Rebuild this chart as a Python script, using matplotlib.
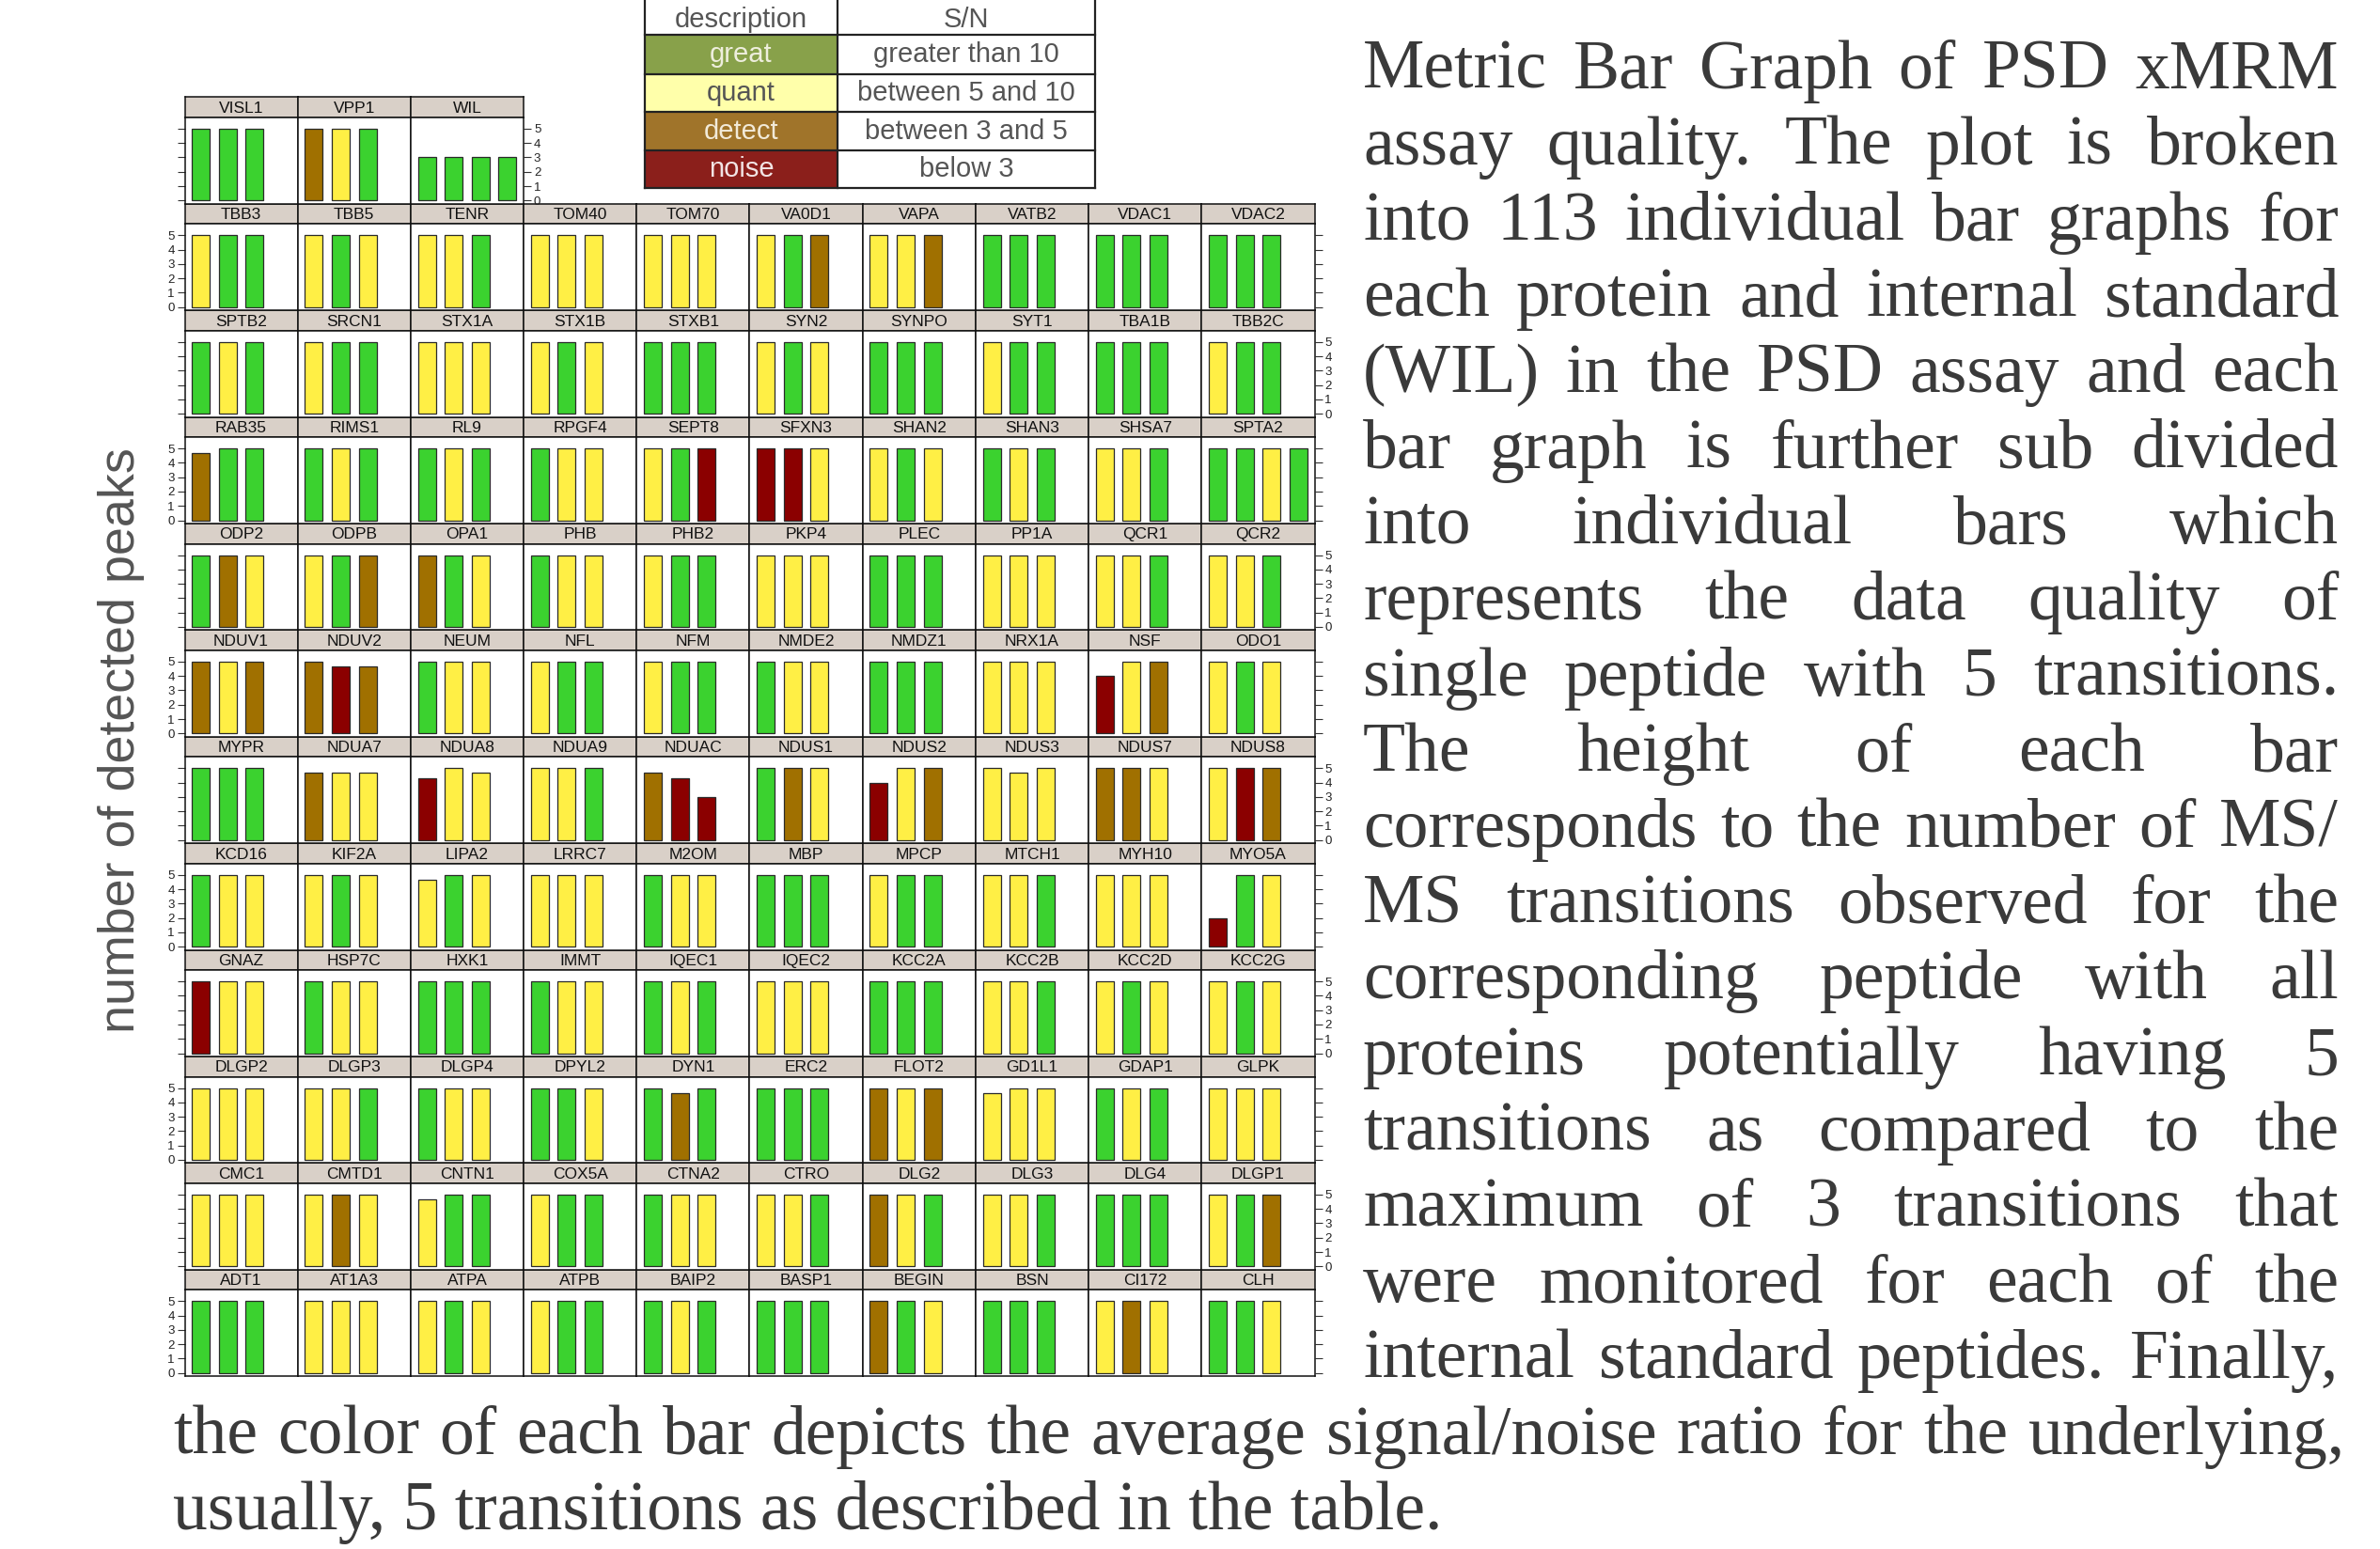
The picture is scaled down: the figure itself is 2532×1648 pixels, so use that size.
import matplotlib
matplotlib.use('Agg')
import matplotlib.pyplot as plt
from matplotlib.patches import Rectangle

W, H = 2532, 1648
DPI = 100

# panels in lattice order (bottom-left first, alphabetical)
proteins = [
    'ADT1', 'AT1A3', 'ATPA', 'ATPB', 'BAIP2', 'BASP1', 'BEGIN', 'BSN', 'CI172', 'CLH',
    'CMC1', 'CMTD1', 'CNTN1', 'COX5A', 'CTNA2', 'CTRO', 'DLG2', 'DLG3', 'DLG4', 'DLGP1',
    'DLGP2', 'DLGP3', 'DLGP4', 'DPYL2', 'DYN1', 'ERC2', 'FLOT2', 'GD1L1', 'GDAP1', 'GLPK',
    'GNAZ', 'HSP7C', 'HXK1', 'IMMT', 'IQEC1', 'IQEC2', 'KCC2A', 'KCC2B', 'KCC2D', 'KCC2G',
    'KCD16', 'KIF2A', 'LIPA2', 'LRRC7', 'M2OM', 'MBP', 'MPCP', 'MTCH1', 'MYH10', 'MYO5A',
    'MYPR', 'NDUA7', 'NDUA8', 'NDUA9', 'NDUAC', 'NDUS1', 'NDUS2', 'NDUS3', 'NDUS7', 'NDUS8',
    'NDUV1', 'NDUV2', 'NEUM', 'NFL', 'NFM', 'NMDE2', 'NMDZ1', 'NRX1A', 'NSF', 'ODO1',
    'ODP2', 'ODPB', 'OPA1', 'PHB', 'PHB2', 'PKP4', 'PLEC', 'PP1A', 'QCR1', 'QCR2',
    'RAB35', 'RIMS1', 'RL9', 'RPGF4', 'SEPT8', 'SFXN3', 'SHAN2', 'SHAN3', 'SHSA7', 'SPTA2',
    'SPTB2', 'SRCN1', 'STX1A', 'STX1B', 'STXB1', 'SYN2', 'SYNPO', 'SYT1', 'TBA1B', 'TBB2C',
    'TBB3', 'TBB5', 'TENR', 'TOM40', 'TOM70', 'VA0D1', 'VAPA', 'VATB2', 'VDAC1', 'VDAC2',
    'VISL1', 'VPP1', 'WIL',
]

# S/N class of each peptide: G great, Y quant, D detect, N noise
sn_class = [
    'GGG', 'YYY', 'YGY', 'YGG', 'GYG', 'GGG', 'DGY', 'GGG', 'YDY', 'GGY',
    'YYY', 'YDY', 'YGG', 'YGG', 'GYY', 'YYG', 'DYG', 'YYG', 'GGG', 'YGD',
    'YYY', 'YYG', 'GYY', 'GGY', 'GDG', 'GGG', 'DYD', 'YYY', 'GYG', 'YYY',
    'NYY', 'GYY', 'GGG', 'GYY', 'GYG', 'YYY', 'GGG', 'YYG', 'YGY', 'YGY',
    'GYY', 'YGY', 'YGY', 'YYY', 'GYY', 'GGG', 'YGG', 'YYG', 'YYY', 'NGY',
    'GGG', 'DYY', 'NYY', 'YYG', 'DNN', 'GDY', 'NYD', 'YYY', 'DDY', 'YND',
    'DYD', 'DND', 'GYY', 'YGG', 'YGG', 'GYY', 'GGG', 'YYY', 'NYD', 'YGY',
    'GDY', 'YGD', 'DGY', 'GYY', 'YGG', 'YYY', 'GGG', 'YYY', 'YYG', 'YYG',
    'DGG', 'GYG', 'GYG', 'GYY', 'YGN', 'NNY', 'YGY', 'GYG', 'YYG', 'GGYG',
    'GYG', 'YGG', 'YYY', 'YGY', 'GGG', 'YGY', 'GGG', 'YGG', 'GGG', 'YGG',
    'YGG', 'YGY', 'YYG', 'YYY', 'YYY', 'YGD', 'YYD', 'GGG', 'GGG', 'GGG',
    'GGG', 'DYG', 'GGGG',
]

# number of detected peaks per peptide (all 5 unless listed)
special_peaks = {
    'CNTN1': [4.67, 5, 5], 'DYN1': [5, 4.67, 5], 'GD1L1': [4.67, 5, 5],
    'LIPA2': [4.67, 5, 5], 'MYO5A': [2, 5, 5],
    'NDUA7': [4.67, 4.67, 4.67], 'NDUA8': [4.33, 5, 4.67], 'NDUAC': [4.67, 4.33, 3],
    'NDUS2': [4, 5, 5], 'NDUS3': [5, 4.67, 5],
    'NDUV2': [5, 4.67, 4.67], 'NSF': [4, 5, 5], 'RAB35': [4.67, 5, 5],
    'WIL': [3, 3, 3, 3],
}

bar_colors = {'G': '#3BD22F', 'Y': '#FFEF45', 'D': '#A07000', 'N': '#8B0000'}

legend_desc = ['great', 'quant', 'detect', 'noise']
legend_sn = ['greater than 10', 'between 5 and 10', 'between 3 and 5', 'below 3']
legend_fill = ['#88A14A', '#FFFFAA', '#A0742A', '#8B1F1B']
legend_txt = ['#EEEEDD', '#555555', '#F2EAD8', '#F2E4E4']

caption_right = [
    'Metric Bar Graph of PSD xMRM',
    'assay quality. The plot is broken',
    'into 113 individual bar graphs for',
    'each protein and internal standard',
    '(WIL) in the PSD assay and each',
    'bar graph is further sub divided',
    'into individual bars which',
    'represents the data quality of',
    'single peptide with 5 transitions.',
    'The height of each bar',
    'corresponds to the number of MS/',
    'MS transitions observed for the',
    'corresponding peptide with all',
    'proteins potentially having 5',
    'transitions as compared to the',
    'maximum of 3 transitions that',
    'were monitored for each of the',
    'internal standard peptides. Finally,',
]
caption_full = 'the color of each bar depicts the average signal/noise ratio for the underlying,'
caption_last = 'usually, 5 transitions as described in the table.'


def fbox(x, y, w, h):
    # pixel box (top-left origin) -> figure fraction
    return [x / W, 1 - (y + h) / H, w / W, h / H]


fig = plt.figure(figsize=(W / DPI, H / DPI), dpi=DPI)
fig.patch.set_facecolor('white')

sans = 'Liberation Sans'
serif = 'Liberation Serif'

# grid geometry in pixels
GX0, CW = 196.5, 120.2
GY0, RP, SH = 103.3, 113.4, 21.7
PH = RP - SH
nrows = (len(proteins) + 9) // 10

for i, name in enumerate(proteins):
    rb, col = divmod(i, 10)
    rt = nrows - 1 - rb
    ncols = min(10, len(proteins) - rb * 10)
    x = GX0 + col * CW
    ys = GY0 + rt * RP

    # strip
    sax = fig.add_axes(fbox(x, ys, CW, SH))
    sax.set_facecolor('#D9D0C8')
    sax.set_xticks([])
    sax.set_yticks([])
    for sp in sax.spines.values():
        sp.set_linewidth(1.1)
        sp.set_color('#111111')
    sax.text(0.5, 0.45, name, ha='center', va='center', fontsize=12.5,
             family=sans, color='#111111', transform=sax.transAxes)

    # panel
    ax = fig.add_axes(fbox(x, ys + SH, CW, PH))
    cls = sn_class[i]
    peaks = special_peaks.get(name, [5] * len(cls))
    xs = list(range(1, len(cls) + 1))
    ax.bar(xs, peaks, width=2 / 3, color=[bar_colors[c] for c in cls],
           edgecolor='#2a2a2a', linewidth=0.9)
    ax.set_xlim(0.4, 4.6)
    ax.set_ylim(-0.22, 5.78)
    ax.set_xticks([])
    ax.set_yticks([0, 1, 2, 3, 4, 5])
    for sp in ax.spines.values():
        sp.set_linewidth(1.1)
        sp.set_color('#111111')
    ax.tick_params(axis='y', direction='out', length=5.8, width=0.8,
                   color='#333333', labelcolor='#222222', labelsize=9.5, pad=2,
                   left=(col == 0), right=(col == ncols - 1),
                   labelleft=(col == 0 and rt % 2 == 1),
                   labelright=(col == ncols - 1 and rt % 2 == 0))
    for lab in ax.get_yticklabels():
        lab.set_family(sans)

fig.text(129 / W, 1 - 788 / H, 'number of detected peaks', rotation=90,
         ha='center', va='center', fontsize=38.8, family=sans, color='#555555')

# legend table
tx0, tx1, tx2 = 686, 891, 1165
trows = [-4, 37, 79, 119, 160, 200]
tax = fig.add_axes([0, 0, 1, 1], zorder=5)
tax.set_xlim(0, W)
tax.set_ylim(H, 0)
tax.axis('off')
tax.add_patch(Rectangle((tx0, trows[0]), tx2 - tx0, trows[1] - trows[0],
                        facecolor='white', edgecolor='none'))
tax.text((tx0 + tx1) / 2, (trows[0] + trows[1]) / 2 + 4, 'description', ha='center',
         va='center', fontsize=21, family=sans, color='#555555')
tax.text((tx1 + tx2) / 2, (trows[0] + trows[1]) / 2 + 4, 'S/N', ha='center',
         va='center', fontsize=21, family=sans, color='#555555')
for k in range(4):
    y0, y1 = trows[k + 1], trows[k + 2]
    tax.add_patch(Rectangle((tx0, y0), tx1 - tx0, y1 - y0,
                            facecolor=legend_fill[k], edgecolor='none'))
    tax.add_patch(Rectangle((tx1, y0), tx2 - tx1, y1 - y0,
                            facecolor='white', edgecolor='none'))
    tax.text((tx0 + tx1) / 2, (y0 + y1) / 2, legend_desc[k], ha='center',
             va='center', fontsize=21, family=sans, color=legend_txt[k])
    tax.text((tx1 + tx2) / 2, (y0 + y1) / 2, legend_sn[k], ha='center',
             va='center', fontsize=21, family=sans, color='#555555')
for yy in trows[1:]:
    tax.plot([tx0, tx2], [yy, yy], color='#222222', lw=1.6)
for xx in (tx0, tx1, tx2):
    tax.plot([xx, xx], [trows[0], trows[-1]], color='#222222', lw=1.6)

# caption, justified
renderer = fig.canvas.get_renderer()
tcol = '#3a3a3a'
fs_cap = 53


def justified(line, x0, x1, ybase):
    words = line.split()
    txts = [fig.text(0, 1 - ybase / H, w, fontsize=fs_cap, family=serif,
                     color=tcol, ha='left', va='baseline') for w in words]
    widths = [t.get_window_extent(renderer).width for t in txts]
    gap = (x1 - x0 - sum(widths)) / max(len(words) - 1, 1)
    xx = x0
    for t, wd in zip(txts, widths):
        t.set_x(xx / W)
        xx += wd + gap


base0, lead = 94, 80.7
for j, line in enumerate(caption_right):
    justified(line, 1450, 2488, base0 + lead * j)
justified(caption_full, 184, 2494, base0 + lead * 18)
fig.text(184 / W, 1 - (base0 + lead * 19) / H, caption_last, fontsize=fs_cap,
         family=serif, color=tcol, ha='left', va='baseline')

fig.savefig('out.png', dpi=DPI)
